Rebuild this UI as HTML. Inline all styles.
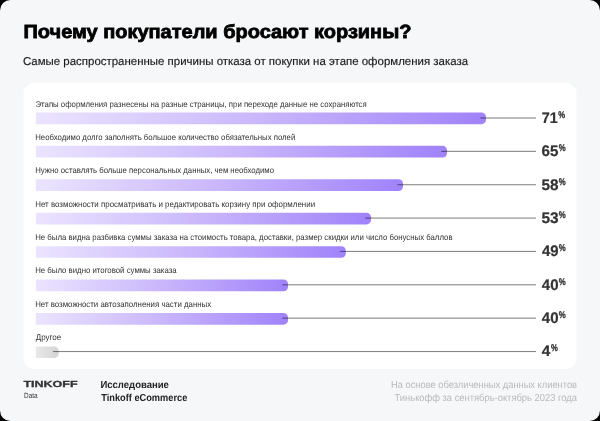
<!DOCTYPE html>
<html lang="ru"><head><meta charset="utf-8"><title>Почему покупатели бросают корзины?</title>
<style>
*{box-sizing:border-box;margin:0;padding:0}
html,body{width:600px;height:421px;background:#000;overflow:hidden}
body{font-family:"Liberation Sans",sans-serif;position:relative}
.page{position:absolute;left:0;top:0;width:600px;height:421px;background:#f6f7f8;border-radius:10.5px;overflow:hidden}
.t{position:absolute;left:0;white-space:nowrap;transform-origin:0 0;font-weight:400;text-rendering:geometricPrecision}
.title{font-weight:700;color:#000;-webkit-text-stroke:0.8px #000}
.sub{color:#1a1a1a;-webkit-text-stroke:0.15px #1a1a1a}
.chart{position:absolute;left:0;top:0;width:600px;height:421px}
.lbl{color:#333}
.val{font-weight:700;color:#333;-webkit-text-stroke:0.22px #333}
.pct{font-weight:700;color:#333;-webkit-text-stroke:0.3px #333}
.logo{font-weight:700;color:#333;-webkit-text-stroke:0.3px #333}
.data{color:#333}
.res{font-weight:700;color:#222}
.note{color:#b9b9b9}
</style></head><body>
<div class="page">
<h1 class="t title" id="title" style="top:21px;font-size:19.0px;line-height:24.7px;transform:translateX(23.47px) scaleX(1.0516)">Почему покупатели бросают корзины?</h1>
<p class="t sub" id="sub" style="top:55px;font-size:11.4px;line-height:14.82px;transform:translateX(22.95px) scaleX(1.0052)">Самые распространенные причины отказа от покупки на этапе оформления заказа</p>
<svg class="chart" width="600" height="421" viewBox="0 0 600 421">
<defs>
<linearGradient id="gp" x1="0" y1="0" x2="1" y2="0"><stop offset="0" stop-color="#ebe4ff"/><stop offset="0.5" stop-color="#c9b6fb"/><stop offset="1" stop-color="#a082fa"/></linearGradient>
<linearGradient id="gg" x1="0" y1="0" x2="1" y2="0"><stop offset="0" stop-color="#e9e9e9"/><stop offset="1" stop-color="#d4d4d4"/></linearGradient>
</defs>
<rect x="23.5" y="83" width="553" height="286" rx="11" ry="11" fill="#fff"/>
<path d="M35.8 112.45H481.50A4.5 4.5 0 0 1 486.00 116.95V119.65A4.5 4.5 0 0 1 481.50 124.15H35.8Z" fill="url(#gp)"/>
<rect x="480.40" y="117.45" width="55.60" height="1.1" fill="#000" fill-opacity="0.47"/>
<path d="M35.8 145.87H442.50A4.5 4.5 0 0 1 447.00 150.37V153.07A4.5 4.5 0 0 1 442.50 157.57H35.8Z" fill="url(#gp)"/>
<rect x="441.40" y="150.81" width="94.60" height="1.1" fill="#000" fill-opacity="0.47"/>
<path d="M35.8 179.29H398.50A4.5 4.5 0 0 1 403.00 183.79V186.49A4.5 4.5 0 0 1 398.50 190.99H35.8Z" fill="url(#gp)"/>
<rect x="397.40" y="184.17" width="138.60" height="1.1" fill="#000" fill-opacity="0.47"/>
<path d="M35.8 212.71H366.50A4.5 4.5 0 0 1 371.00 217.21V219.91A4.5 4.5 0 0 1 366.50 224.41H35.8Z" fill="url(#gp)"/>
<rect x="365.40" y="217.53" width="170.60" height="1.1" fill="#000" fill-opacity="0.47"/>
<path d="M35.8 246.13H341.30A4.5 4.5 0 0 1 345.80 250.63V253.33A4.5 4.5 0 0 1 341.30 257.83H35.8Z" fill="url(#gp)"/>
<rect x="340.20" y="250.89" width="195.80" height="1.1" fill="#000" fill-opacity="0.47"/>
<path d="M35.8 279.55H283.50A4.5 4.5 0 0 1 288.00 284.05V286.75A4.5 4.5 0 0 1 283.50 291.25H35.8Z" fill="url(#gp)"/>
<rect x="282.40" y="284.25" width="253.60" height="1.1" fill="#000" fill-opacity="0.47"/>
<path d="M35.8 312.97H283.50A4.5 4.5 0 0 1 288.00 317.47V320.17A4.5 4.5 0 0 1 283.50 324.67H35.8Z" fill="url(#gp)"/>
<rect x="282.40" y="317.61" width="253.60" height="1.1" fill="#000" fill-opacity="0.47"/>
<path d="M35.8 346.39H54.20A4.5 4.5 0 0 1 58.70 350.89V353.59A4.5 4.5 0 0 1 54.20 358.09H35.8Z" fill="url(#gg)"/>
<rect x="53.10" y="350.97" width="482.90" height="1.1" fill="#000" fill-opacity="0.47"/>
</svg>
<div class="t lbl" id="l0" style="top:99px;font-size:8.3px;line-height:10.79px;transform:translateX(35.50px) scaleX(0.9374)">Этапы оформления разнесены на разные страницы, при переходе данные не сохраняются</div>
<div class="t val" id="v0" style="top:109px;font-size:15.3px;line-height:19.89px;transform:translateX(541.71px) scaleX(0.9359)">71</div>
<div class="t pct" id="p0" style="top:110px;font-size:9.7px;line-height:12.61px;transform:translateX(558.23px) scaleX(0.7989)">%</div>
<div class="t lbl" id="l1" style="top:132px;font-size:8.3px;line-height:10.79px;transform:translateX(35.20px) scaleX(0.9380)">Необходимо долго заполнять большое количество обязательных полей</div>
<div class="t val" id="v1" style="top:142px;font-size:15.3px;line-height:19.89px;transform:translateX(541.53px) scaleX(0.9901)">65</div>
<div class="t pct" id="p1" style="top:143px;font-size:9.7px;line-height:12.61px;transform:translateX(558.72px) scaleX(0.8060)">%</div>
<div class="t lbl" id="l2" style="top:165px;font-size:8.3px;line-height:10.79px;transform:translateX(35.20px) scaleX(0.9361)">Нужно оставлять больше персональных данных, чем необходимо</div>
<div class="t val" id="v2" style="top:176px;font-size:15.3px;line-height:19.89px;transform:translateX(541.45px) scaleX(0.9996)">58</div>
<div class="t pct" id="p2" style="top:177px;font-size:9.7px;line-height:12.61px;transform:translateX(558.72px) scaleX(0.8060)">%</div>
<div class="t lbl" id="l3" style="top:199px;font-size:8.3px;line-height:10.79px;transform:translateX(35.20px) scaleX(0.9544)">Нет возможности просматривать и редактировать корзину при оформлении</div>
<div class="t val" id="v3" style="top:209px;font-size:15.3px;line-height:19.89px;transform:translateX(541.42px) scaleX(1.0093)">53</div>
<div class="t pct" id="p3" style="top:210px;font-size:9.7px;line-height:12.61px;transform:translateX(558.72px) scaleX(0.8060)">%</div>
<div class="t lbl" id="l4" style="top:232px;font-size:8.3px;line-height:10.79px;transform:translateX(35.20px) scaleX(0.9404)">Не была видна разбивка суммы заказа на стоимость товара, доставки, размер скидки или число бонусных баллов</div>
<div class="t val" id="v4" style="top:242px;font-size:15.3px;line-height:19.89px;transform:translateX(541.90px) scaleX(0.9762)">49</div>
<div class="t pct" id="p4" style="top:243px;font-size:9.7px;line-height:12.61px;transform:translateX(558.72px) scaleX(0.8060)">%</div>
<div class="t lbl" id="l5" style="top:265px;font-size:8.3px;line-height:10.79px;transform:translateX(35.20px) scaleX(0.9414)">Не было видно итоговой суммы заказа</div>
<div class="t val" id="v5" style="top:276px;font-size:15.3px;line-height:19.89px;transform:translateX(541.76px) scaleX(0.9839)">40</div>
<div class="t pct" id="p5" style="top:277px;font-size:9.7px;line-height:12.61px;transform:translateX(558.72px) scaleX(0.8060)">%</div>
<div class="t lbl" id="l6" style="top:299px;font-size:8.3px;line-height:10.79px;transform:translateX(35.20px) scaleX(0.9461)">Нет возможности автозаполнения части данных</div>
<div class="t val" id="v6" style="top:309px;font-size:15.3px;line-height:19.89px;transform:translateX(541.76px) scaleX(0.9839)">40</div>
<div class="t pct" id="p6" style="top:310px;font-size:9.7px;line-height:12.61px;transform:translateX(558.72px) scaleX(0.8060)">%</div>
<div class="t lbl" id="l7" style="top:332px;font-size:8.3px;line-height:10.79px;transform:translateX(35.70px) scaleX(0.9664)">Другое</div>
<div class="t val" id="v7" style="top:342px;font-size:15.3px;line-height:19.89px;transform:translateX(541.63px) scaleX(1.0049)">4</div>
<div class="t pct" id="p7" style="top:343px;font-size:9.7px;line-height:12.61px;transform:translateX(551.00px) scaleX(0.7925)">%</div>
<div class="t logo" id="logo" style="top:379px;font-size:8.9px;line-height:11.57px;transform:translateX(23.43px) scaleX(1.4091)">TINKOFF</div>
<div class="t data" id="data" style="top:391px;font-size:7.5px;line-height:9.75px;transform:translateX(23.99px) scaleX(0.8576)">Data</div>
<div class="t res" id="r1" style="top:379px;font-size:10.2px;line-height:13.26px;transform:translateX(100.42px) scaleX(0.9351)">Исследование</div>
<div class="t res" id="r2" style="top:392px;font-size:10.2px;line-height:13.26px;transform:translateX(101.25px) scaleX(0.9065)">Tinkoff eCommerce</div>
<div class="t note" id="n1" style="top:379px;font-size:10.2px;line-height:13.26px;transform:translateX(390.99px) scaleX(0.9147)">На основе обезличенных данных клиентов</div>
<div class="t note" id="n2" style="top:392px;font-size:10.2px;line-height:13.26px;transform:translateX(394.53px) scaleX(0.9197)">Тинькофф за сентябрь-октябрь 2023 года</div>
</div>
</body></html>
